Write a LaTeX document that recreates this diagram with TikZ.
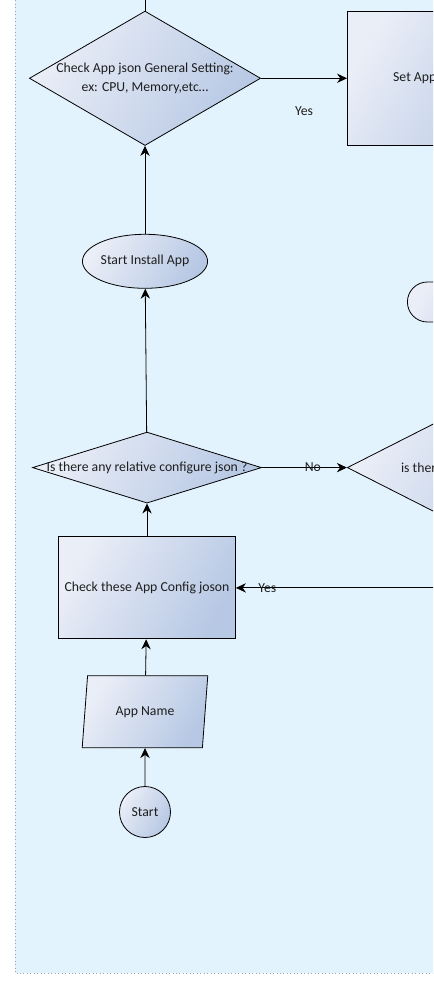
\documentclass[tikz,border=0pt]{standalone}
\usepackage{fontspec}
\setmainfont{Carlito}
\usetikzlibrary{shapes.geometric,positioning,arrows.meta}
\definecolor{canvasblue}{HTML}{E3F3FD}
\definecolor{framegray}{HTML}{9AA4AE}
\definecolor{shadelight}{HTML}{EAEEF7}
\definecolor{shadedark}{HTML}{B7C8E4}
\definecolor{inkgray}{HTML}{1E1E1E}

\begin{document}
\begin{tikzpicture}[
    x=0.75pt, y=-0.75pt,
    >={Stealth[length=7.5pt,width=7pt]},
    font=\fontsize{10.3}{12.5}\selectfont,
    text=inkgray,
    shaded/.style={draw, line width=0.6pt, left color=shadelight, right color=shadedark, shading angle=60},
    decision/.style={shaded, diamond, inner sep=0pt, align=center},
    process/.style={shaded, rectangle, inner sep=0pt},
    inout/.style={shaded, trapezium, trapezium left angle=76, trapezium right angle=104, trapezium stretches=true, inner sep=0pt},
    terminal/.style={shaded, ellipse, inner sep=0pt},
    startnode/.style={shaded, circle, inner sep=0pt, minimum size=38.25pt},
    flow/.style={->, line width=0.6pt}
]
    \useasboundingbox (0,0) rectangle (433,989);
    \clip (0,0) rectangle (433,989);
    % canvas
    \fill[canvasblue] (15,-10) rectangle (450,973);
    \draw[framegray, dotted, line width=0.6pt] (15,-10) -- (15,973) -- (450,973);

    % main column
    \node[startnode] (start) at (145,812) {Start};
    \node[inout, above=28.5pt of start, minimum width=94.5pt, minimum height=54pt] (appname) {App Name};
    \node[process, above=27pt of appname, xshift=1.5pt, minimum width=132.75pt, minimum height=76.5pt] (checkcfg) {Check these App Config joson};
    \node[decision, above=24.75pt of checkcfg, minimum width=171.75pt, minimum height=53.25pt, aspect=3.2] (hascfg) {\makebox[0pt]{Is there any relative configure json ?}};
    \node[terminal, above=107.25pt of hascfg, xshift=-1.5pt, minimum width=93pt, minimum height=40.5pt] (install) {Start Install App};
    \node[decision, above=66pt of install, minimum width=171.75pt, minimum height=99.75pt, aspect=1.72] (general) {Check App json General Setting:\\[2.2pt]ex: CPU, Memory,etc…};

    % right column (cut off)
    \node[process, right=64.5pt of general, minimum width=150pt, minimum height=100.5pt] (setgen) {};
    \node[anchor=west] (setgentext) at ([xshift=31.1pt]setgen.west) {Set App};
    \node[shaded, rounded corners=15pt, anchor=west, minimum width=100pt, minimum height=30pt] (finish) at (407,302) {};
    \node[decision, right=63.75pt of hascfg, minimum width=180pt, minimum height=91.5pt] (hasany) {};
    \node[anchor=west] (hasanytext) at ([xshift=37.1pt]hasany.west) {is there};

    \coordinate (topexit) at (145,-10);
    \coordinate (rightin) at ([xshift=156.75pt]checkcfg.east);

    % connectors
    \draw[flow] (start) -- (appname);
    \draw[flow] (appname) -- (checkcfg);
    \draw[flow] (checkcfg) -- (hascfg);
    \draw[flow] (hascfg) -- (install);
    \draw[flow] (install) -- (general);
    \draw[line width=0.6pt] (general.north) -- (topexit);
    \draw[flow] (general) -- node[below=18pt] {Yes} (setgen);
    \draw[flow] (hascfg) -- node[pos=0.6] {No} (hasany);
    \draw[flow] (rightin) -- node[pos=0.85] {Yes} (checkcfg);
\end{tikzpicture}
\end{document}
